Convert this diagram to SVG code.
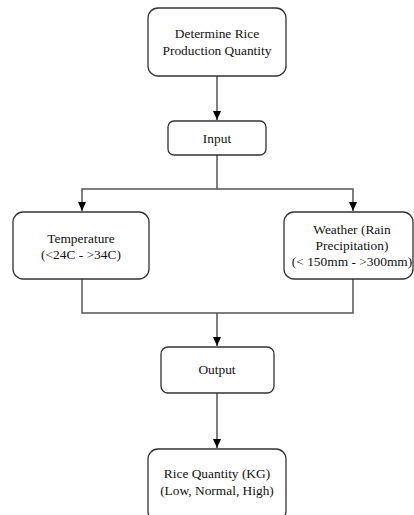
<svg xmlns="http://www.w3.org/2000/svg" width="414" height="515" viewBox="0 0 414 515">
<defs>
<marker id="arr" markerWidth="10" markerHeight="10" refX="9" refY="5" orient="auto" markerUnits="userSpaceOnUse">
<path d="M0,1 L9,5 L0,9 Z" fill="#000"/>
</marker>
<style>
.box{fill:#fff;stroke:#333;stroke-width:1.3}
.t{font-family:"Liberation Serif","Times New Roman",serif;font-size:13.4px;fill:#111;text-anchor:middle}
.c{fill:none;stroke:#555;stroke-width:1.5}
</style>
</defs>
<rect width="414" height="515" fill="#fff"/>
<g id="connectors">
<path class="c" d="M217,76 V120" marker-end="url(#arr)"/>
<path class="c" d="M217,155 V189 H82 V211" marker-end="url(#arr)"/>
<path class="c" d="M217,189 H353 V211" marker-end="url(#arr)"/>
<path class="c" d="M82,279 V313 H353 V279"/>
<path class="c" d="M217,313 V346" marker-end="url(#arr)"/>
<path class="c" d="M217,393 V448" marker-end="url(#arr)"/>
</g>
<g id="determine">
<rect class="box" x="148" y="8" width="138" height="68" rx="10"/>
<text class="t" x="217" y="38">Determine Rice</text>
<text class="t" x="217" y="55">Production Quantity</text>
</g>
<g id="input">
<rect class="box" x="168" y="121" width="98" height="34" rx="6"/>
<text class="t" x="217" y="142.5">Input</text>
</g>
<g id="temperature">
<rect class="box" x="13" y="212" width="136" height="67" rx="10"/>
<text class="t" x="81" y="242.5">Temperature</text>
<text class="t" x="81" y="259">(&lt;24C - &gt;34C)</text>
</g>
<g id="weather">
<rect class="box" x="284" y="212" width="129" height="67" rx="10"/>
<text class="t" x="352" y="234">Weather (Rain</text>
<text class="t" x="352" y="250">Precipitation)</text>
<text class="t" x="352" y="266">(&lt; 150mm - &gt;300mm)</text>
</g>
<g id="output">
<rect class="box" x="161" y="347" width="113" height="46" rx="7"/>
<text class="t" x="217" y="374">Output</text>
</g>
<g id="rice">
<rect class="box" x="148" y="449" width="138" height="72" rx="10"/>
<text class="t" x="217" y="477.5">Rice Quantity (KG)</text>
<text class="t" x="217" y="495">(Low, Normal, High)</text>
</g>
</svg>
